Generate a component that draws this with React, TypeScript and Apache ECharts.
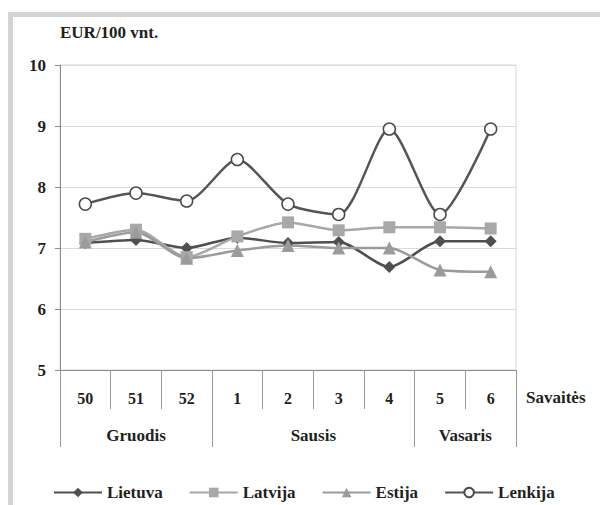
import React, { useEffect, useRef } from "react";
import * as echarts from "echarts";

const weeks = ["50", "51", "52", "1", "2", "3", "4", "5", "6"];
const months = ["Gruodis", "Sausis", "Vasaris"];
const monthSpans = [3, 4, 2];
const seriesNames = ["Lietuva", "Latvija", "Estija", "Lenkija"];
const lietuva = [7.08, 7.13, 7.0, 7.17, 7.08, 7.1, 6.69, 7.11, 7.11];
const latvija = [7.15, 7.3, 6.85, 7.19, 7.42, 7.29, 7.34, 7.34, 7.32];
const estija = [7.1, 7.26, 6.83, 6.96, 7.04, 7.0, 7.0, 6.64, 6.61];
const lenkija = [7.72, 7.9, 7.77, 8.45, 7.72, 7.55, 8.95, 7.55, 8.95];
const yUnit = "EUR/100 vnt.";
const xName = "Savaitės";

const FONT = "Liberation Serif";
const TXT = "#231f20";

export default function App() {
  const ref = useRef<HTMLDivElement>(null);
  useEffect(() => {
    document.body.style.margin = "0";
    const el = ref.current!;
    const chart = echarts.init(el, null, { renderer: "svg" });

    const monthData: string[] = new Array(weeks.length * 2 + 1).fill("");
    const bounds = new Set<number>([0]);
    let pos = 0;
    months.forEach((m, i) => {
      monthData[2 * pos + monthSpans[i]] = m;
      pos += monthSpans[i];
      bounds.add(2 * pos);
    });

    const txt = { fontFamily: FONT, fontWeight: "bold" as const, fontSize: 16, color: TXT };

    const mk = (name: string, data: number[], color: string, symbol: string, size: number) => ({
      name,
      type: "line",
      data,
      smooth: 0.25,
      symbol,
      symbolSize: size,
      lineStyle: { color, width: 2.5 },
      itemStyle: { color },
      xAxisIndex: 0,
      yAxisIndex: 0,
    });

    chart.setOption({
      animation: false,
      textStyle: { fontFamily: FONT, fontWeight: "bold" },
      title: {
        text: yUnit,
        left: 60,
        top: 24,
        padding: 0,
        textStyle: { ...txt, fontSize: 17 },
      },
      grid: {
        left: 60,
        right: 84,
        top: 65,
        bottom: 135,
        show: true,
        borderColor: "#d9d9d9",
        borderWidth: 1,
        backgroundColor: "transparent",
      },
      legend: {
        data: seriesNames,
        left: 48,
        top: 479,
        itemWidth: 48,
        itemHeight: 12,
        itemGap: 26,
        textStyle: { ...txt, fontSize: 17 },
      },
      xAxis: [
        {
          type: "category",
          data: weeks,
          boundaryGap: true,
          position: "bottom",
          name: xName,
          nameLocation: "end",
          nameGap: 10,
          nameTextStyle: { ...txt, fontSize: 17, align: "left", verticalAlign: "top", padding: [19, 0, 0, 0] },
          axisLine: { show: true, lineStyle: { color: "#8c8c8c", width: 1 } },
          axisTick: { show: true, interval: 0, length: 39, lineStyle: { color: "#9a9a9a" } },
          axisLabel: { ...txt, interval: 0, margin: 20 },
          splitLine: { show: false },
        },
        {
          type: "category",
          data: monthData,
          boundaryGap: false,
          position: "bottom",
          axisLine: { show: false },
          axisTick: {
            show: true,
            length: 77,
            interval: (i: number) => bounds.has(i),
            lineStyle: { color: "#9a9a9a" },
          },
          axisLabel: { ...txt, fontSize: 17, margin: 57, interval: (i: number) => monthData[i] !== "" },
          splitLine: { show: false },
        },
      ],
      yAxis: {
        type: "value",
        min: 5,
        max: 10,
        interval: 1,
        axisLine: { show: true, lineStyle: { color: "#8c8c8c", width: 1 } },
        axisTick: { show: true, length: 5, lineStyle: { color: "#8c8c8c" } },
        axisLabel: { ...txt, fontSize: 17, margin: 14 },
        splitLine: { show: true, lineStyle: { color: "#d9d9d9", width: 1 } },
      },
      series: [
        mk(seriesNames[0], lietuva, "#4f4f4f", "diamond", 12),
        mk(seriesNames[1], latvija, "#a8a8a8", "rect", 12),
        mk(seriesNames[2], estija, "#9b9b9b", "triangle", 13),
        {
          ...mk(seriesNames[3], lenkija, "#555555", "circle", 12),
          itemStyle: { color: "#ffffff", borderColor: "#4a4a4a", borderWidth: 1.5 },
        },
      ],
    });

    return () => {
      chart.dispose();
    };
  }, []);
  return (
    <div style={{ position: "relative", width: 600, height: 505, overflow: "hidden", background: "#fff" }}>
      <div
        style={{
          position: "absolute",
          left: 8,
          top: 12,
          width: 700,
          height: 600,
          borderLeft: "5px solid #d4d4d4",
          borderTop: "5px solid #d4d4d4",
        }}
      />
      <div ref={ref} style={{ position: "absolute", left: 0, top: 0, width: 600, height: 505 }} />
    </div>
  );
}
